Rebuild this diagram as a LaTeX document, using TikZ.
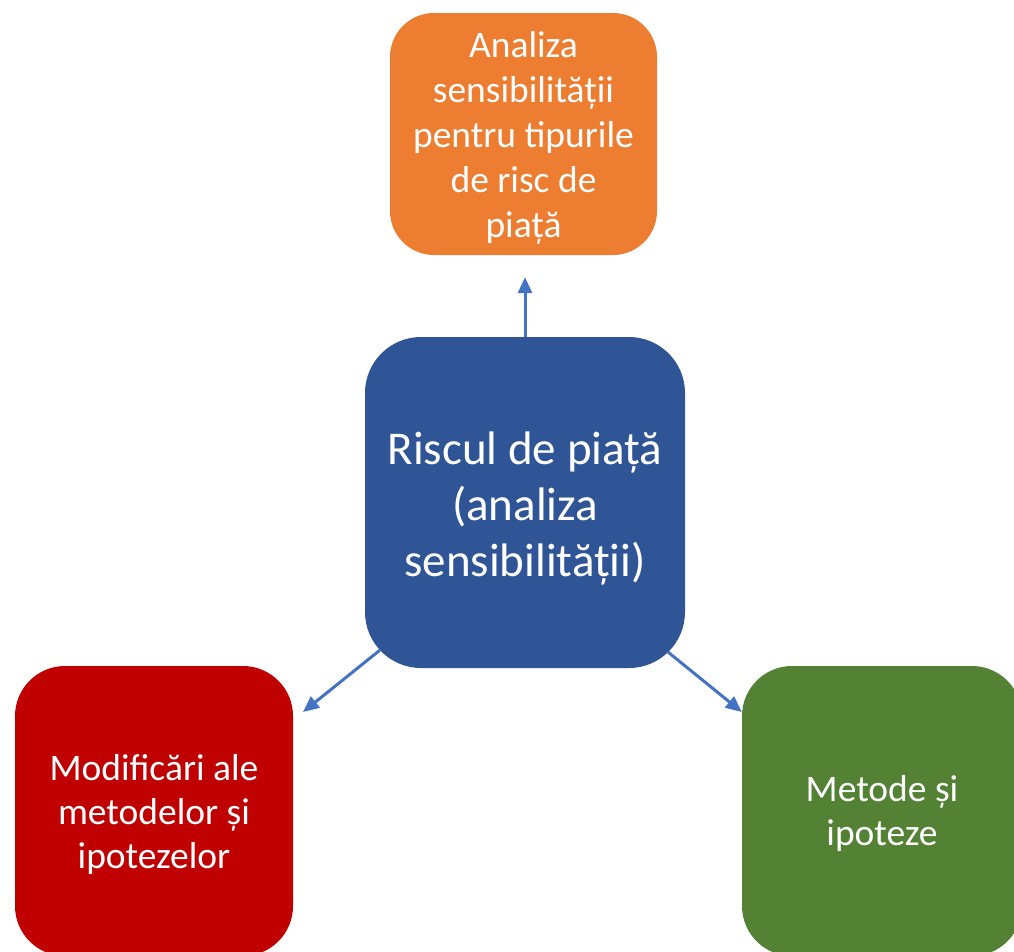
\documentclass[tikz,border=0pt]{standalone}
\usepackage{fontspec}
\setmainfont{Carlito}
\usetikzlibrary{arrows.meta,calc}
\definecolor{cblue}{HTML}{2F5597}
\definecolor{corange}{HTML}{ED7D31}
\definecolor{cred}{HTML}{C00000}
\definecolor{cgreen}{HTML}{548235}
\definecolor{carrow}{HTML}{4472C4}
\tikzset{
  box/.style={rectangle, inner sep=0pt},
  txt/.style={text=white, align=center, inner sep=0pt},
  conn/.style={draw=carrow, line width=3pt, -{Triangle[length=16pt,width=14pt]}},
}
\begin{document}
\begin{tikzpicture}[x=1pt,y=-1pt]
\useasboundingbox (0,0) rectangle (1014,951);
\clip (0,0) rectangle (1014,951);
\node[box, fill=corange, rounded corners=44pt, minimum width=267pt, minimum height=242pt] (top) at (523.5,134) {};
\node[txt, font=\fontsize{37.5}{45}\selectfont] (toptext) at ($(top.center)+(0,4)$)
  {Analiza\\sensibilității\\pentru tipurile\\de risc de\\piață};
\node[box, fill=cblue, rounded corners=56pt, minimum width=320pt, minimum height=331pt] (mid) at (525,502.5) {};
\node[txt, font=\fontsize{47}{56}\selectfont] (midtext) at ($(mid.center)+(0,6)$)
  {Riscul de piață\\(analiza\\sensibilității)};
\node[box, fill=cred, rounded corners=50pt, minimum width=278pt, minimum height=290pt] (left) at (154,811) {};
\node[txt, font=\fontsize{37.5}{44}\selectfont] (lefttext) at ($(left.center)+(0,3)$)
  {Modificări ale\\metodelor și\\ipotezelor};
\node[box, fill=cgreen, rounded corners=50pt, minimum width=280pt, minimum height=290pt] (right) at (882,811) {};
\node[txt, font=\fontsize{37.5}{44}\selectfont] (righttext) at ($(right.center)+(0,2)$)
  {Metode și\\ipoteze};
\coordinate (toptip) at ($(top.south)+(0,22)$);
\coordinate (lefttip) at (303,712);
\draw[conn] (mid.north) -- (mid.north |- toptip);
\draw[conn] ($(mid.south west)+(15,-18)$) -- (lefttip);
\draw[conn] ($(mid.south east)+(-17,-16)$) -- (right.west |- lefttip);
\end{tikzpicture}
\end{document}
